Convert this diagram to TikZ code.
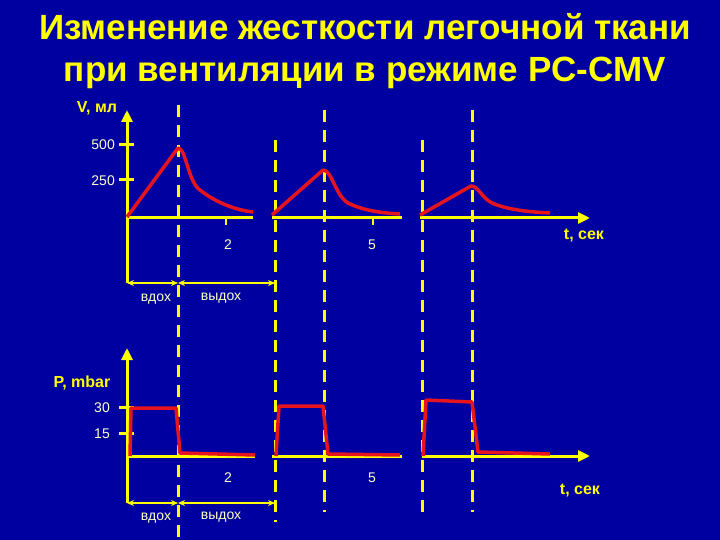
\documentclass[tikz,border=0pt]{standalone}
\usepackage{fontspec}
\setmainfont{Liberation Sans}
\usetikzlibrary{arrows.meta}
\definecolor{bg}{RGB}{0,0,160}
\definecolor{yel}{RGB}{255,255,0}
\definecolor{rd}{RGB}{230,20,30}
\definecolor{pale}{RGB}{255,255,200}
\begin{document}
\begin{tikzpicture}[x=1pt,y=-1pt,
 axis/.style={yel,line width=3pt},
 axarrow/.style={axis,-{Triangle[length=12pt,width=11pt]}},
 dashline/.style={yel,line width=3pt,dash pattern=on 12pt off 8pt},
 curve/.style={rd,line width=3.5pt,line join=round},
 lbl/.style={text=yel,font=\bfseries\fontsize{16}{18}\selectfont,inner sep=0pt},
 small/.style={text=pale,font=\fontsize{14}{16}\selectfont,inner sep=0pt},
 span/.style={yel,line width=1.5pt,{Stealth[length=7pt,width=6pt]}-{Stealth[length=7pt,width=6pt]}}]
\fill[bg] (0,0) rectangle (720,540);
\useasboundingbox (0,0) rectangle (720,540);
\node[text=yel,font=\bfseries\fontsize{35}{42}\selectfont,align=center,inner sep=0pt] (title) at (365,51)
 {Изменение жесткости легочной ткани\\при вентиляции в режиме PC-CMV};
% dashed lines
\foreach \n/\x/\a/\b in {d1/178/105/540,d2/275/140/522,d3/324/110/512,d4/422/140/512,d5/472/110/512}{
 \coordinate (\n t) at (\x,\a); \coordinate (\n b) at (\x,\b);
 \draw[dashline] (\n t) -- (\n b);}
% top axes
\coordinate (vo) at (127,218); \coordinate (vtop) at (127,110); \coordinate (vbot) at (127,283);
\draw[axarrow] (vbot) -- (vtop);
\coordinate (h1a) at (127,218); \coordinate (h1b) at (253,218);
\coordinate (h2a) at (272,218); \coordinate (h2b) at (402,218);
\coordinate (h3a) at (420,218); \coordinate (h3b) at (590,218);
\draw[axis] (h1a) -- (h1b); \draw[axis] (h2a) -- (h2b); \draw[axarrow] (h3a) -- (h3b);
\draw[axis] (119,145) -- (134,145); \draw[axis] (119,180) -- (134,180);
\draw[yel,line width=2pt] (226,218) -- (226,225); \draw[yel,line width=2pt] (373,218) -- (373,225);
\node[lbl] (v) at (97,108) {V, мл};
\node[small,anchor=east] (v500) at (115,145) {500};
\node[small,anchor=east] (v250) at (115,181) {250};
\node[small] (t2a) at (228,245) {2};
\node[small] (t5a) at (372,245) {5};
\node[lbl] (ta) at (584,236) {t, сек};
\coordinate (s1) at (178,283); \coordinate (s2) at (275,283);
\draw[span] (vbot) -- (s1); \draw[span] (s1) -- (s2);
\node[small] (in1) at (156,299) {вдох};
\node[small] (ex1) at (221,298) {выдох};
% top curves
\draw[curve] (127,217) -- (178,148) .. controls (186,148) and (188,182) .. (200,190) .. controls (215,202) and (235,210) .. (253,212);
\draw[curve] (272,215) -- (323,170) .. controls (332,170) and (335,195) .. (348,203) .. controls (362,210) and (380,213) .. (400,214);
\draw[curve] (420,215) -- (471,186) .. controls (478,186) and (482,198) .. (492,203) .. controls (508,210) and (530,212) .. (550,213);
% bottom axes
\coordinate (ptop) at (127,348); \coordinate (pbot) at (127,503);
\draw[axarrow] (pbot) -- (ptop);
\coordinate (g1a) at (127,456); \coordinate (g1b) at (255,456);
\coordinate (g2a) at (272,456); \coordinate (g2b) at (402,456);
\coordinate (g3a) at (422,456); \coordinate (g3b) at (590,456);
\draw[axis] (g1a) -- (g1b); \draw[axis] (g2a) -- (g2b); \draw[axarrow] (g3a) -- (g3b);
\draw[axis] (119,407) -- (134,407); \draw[axis] (119,433) -- (134,433);
\node[lbl] (p) at (82,383) {P, mbar};
\node[small,anchor=east] (p30) at (110,408) {30};
\node[small,anchor=east] (p15) at (110,434) {15};
\node[small] (t2b) at (228,478) {2};
\node[small] (t5b) at (372,478) {5};
\node[lbl] (tb) at (580,491) {t, сек};
\coordinate (r1) at (178,503); \coordinate (r2) at (275,503);
\draw[span] (pbot) -- (r1); \draw[span] (r1) -- (r2);
\node[small] (in2) at (156,518) {вдох};
\node[small] (ex2) at (221,517) {выдох};
\draw[curve] (130,456) -- (131,408) -- (176,408) -- (180,453) -- (255,455);
\draw[curve] (276,456) -- (279,406) -- (323,406) -- (328,454) -- (400,455);
\draw[curve] (423,456) -- (426,400) -- (472,402) -- (478,452) -- (550,454);
\end{tikzpicture}
\end{document}
